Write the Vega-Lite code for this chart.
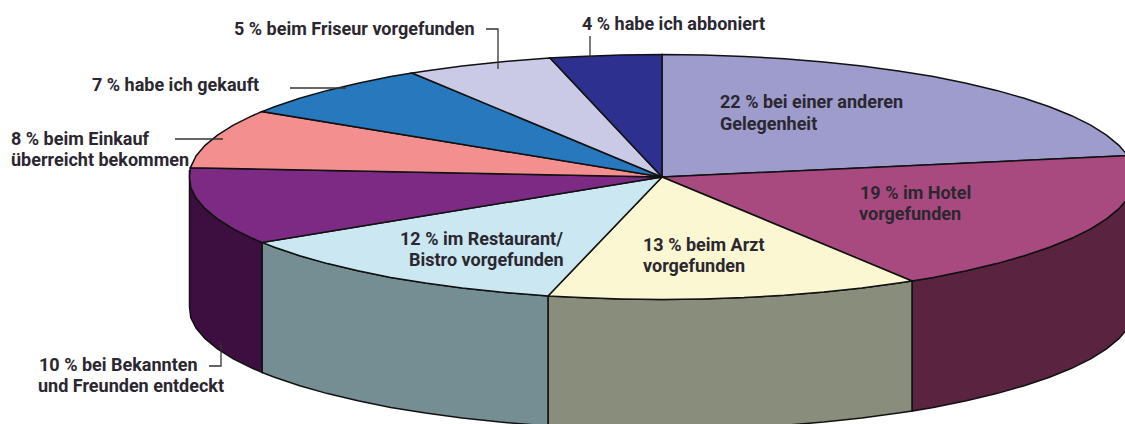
{"$schema":"https://vega.github.io/schema/vega-lite/v6.json","width":1125,"height":424,"padding":0,"autosize":{"type":"fit","contains":"padding"},"background":"white","view":{"stroke":null},
"config":{"view":{"stroke":null}},
"datasets":{
"walls":[
{"part":"w19","i":1,"x":1135,"y":177},{"part":"w19","i":2,"x":1133.2,"y":187.7},{"part":"w19","i":3,"x":1127.8,"y":198.3},{"part":"w19","i":4,"x":1118.9,"y":208.7},{"part":"w19","i":5,"x":1106.5,"y":218.9},{"part":"w19","i":6,"x":1090.7,"y":228.8},{"part":"w19","i":7,"x":1071.6,"y":238.3},{"part":"w19","i":8,"x":1049.5,"y":247.3},{"part":"w19","i":9,"x":1024.3,"y":255.7},{"part":"w19","i":10,"x":996.5,"y":263.6},{"part":"w19","i":11,"x":966.3,"y":270.8},{"part":"w19","i":12,"x":933.3,"y":277.4},{"part":"w19","i":13,"x":912,"y":281},
{"part":"w19","i":14,"x":912,"y":411},{"part":"w19","i":15,"x":933.3,"y":407.4},{"part":"w19","i":16,"x":966.3,"y":400.8},{"part":"w19","i":17,"x":996.5,"y":393.6},{"part":"w19","i":18,"x":1024.3,"y":385.7},{"part":"w19","i":19,"x":1049.5,"y":377.3},{"part":"w19","i":20,"x":1071.6,"y":368.3},{"part":"w19","i":21,"x":1090.7,"y":358.8},{"part":"w19","i":22,"x":1106.5,"y":348.9},{"part":"w19","i":23,"x":1118.9,"y":338.7},{"part":"w19","i":24,"x":1127.8,"y":328.3},{"part":"w19","i":25,"x":1133.2,"y":317.7},{"part":"w19","i":26,"x":1135,"y":307},{"part":"w19","i":27,"x":1135,"y":177},
{"part":"w13","i":1,"x":912,"y":281},{"part":"w13","i":2,"x":898.5,"y":283.1},{"part":"w13","i":3,"x":861.9,"y":288},{"part":"w13","i":4,"x":823.8,"y":292.1},{"part":"w13","i":5,"x":784.4,"y":295.3},{"part":"w13","i":6,"x":744.1,"y":297.6},{"part":"w13","i":7,"x":703.2,"y":299},{"part":"w13","i":8,"x":662,"y":299.5},{"part":"w13","i":9,"x":620.8,"y":299},{"part":"w13","i":10,"x":579.9,"y":297.6},{"part":"w13","i":11,"x":548,"y":295.9},
{"part":"w13","i":12,"x":548,"y":425.9},{"part":"w13","i":13,"x":579.9,"y":427.6},{"part":"w13","i":14,"x":620.8,"y":429},{"part":"w13","i":15,"x":662,"y":429.5},{"part":"w13","i":16,"x":703.2,"y":429},{"part":"w13","i":17,"x":744.1,"y":427.6},{"part":"w13","i":18,"x":784.4,"y":425.3},{"part":"w13","i":19,"x":823.8,"y":422.1},{"part":"w13","i":20,"x":861.9,"y":418},{"part":"w13","i":21,"x":898.5,"y":413.1},{"part":"w13","i":22,"x":912,"y":411},{"part":"w13","i":23,"x":912,"y":281},
{"part":"w12","i":1,"x":548,"y":295.9},{"part":"w12","i":2,"x":539.6,"y":295.3},{"part":"w12","i":3,"x":500.2,"y":292.1},{"part":"w12","i":4,"x":462.1,"y":288},{"part":"w12","i":5,"x":425.5,"y":283.1},{"part":"w12","i":6,"x":390.7,"y":277.4},{"part":"w12","i":7,"x":358,"y":270.8},{"part":"w12","i":8,"x":327.5,"y":263.6},{"part":"w12","i":9,"x":299.7,"y":255.7},{"part":"w12","i":10,"x":274.5,"y":247.3},{"part":"w12","i":11,"x":262,"y":242.4},
{"part":"w12","i":12,"x":262,"y":372.4},{"part":"w12","i":13,"x":274.5,"y":377.3},{"part":"w12","i":14,"x":299.7,"y":385.7},{"part":"w12","i":15,"x":327.5,"y":393.6},{"part":"w12","i":16,"x":358,"y":400.8},{"part":"w12","i":17,"x":390.7,"y":407.4},{"part":"w12","i":18,"x":425.5,"y":413.1},{"part":"w12","i":19,"x":462.1,"y":418},{"part":"w12","i":20,"x":500.2,"y":422.1},{"part":"w12","i":21,"x":539.6,"y":425.3},{"part":"w12","i":22,"x":548,"y":425.9},{"part":"w12","i":23,"x":548,"y":295.9},
{"part":"w10","i":1,"x":262,"y":242.4},{"part":"w10","i":2,"x":252.4,"y":238.3},{"part":"w10","i":3,"x":233.3,"y":228.8},{"part":"w10","i":4,"x":217.5,"y":218.9},{"part":"w10","i":5,"x":205.1,"y":208.7},{"part":"w10","i":6,"x":196.2,"y":198.3},{"part":"w10","i":7,"x":190.8,"y":187.7},{"part":"w10","i":8,"x":189.5,"y":170},
{"part":"w10","i":11,"x":189.5,"y":307},{"part":"w10","i":12,"x":190.8,"y":317.7},{"part":"w10","i":13,"x":196.2,"y":328.3},{"part":"w10","i":14,"x":205.1,"y":338.7},{"part":"w10","i":15,"x":217.5,"y":348.9},{"part":"w10","i":16,"x":233.3,"y":358.8},{"part":"w10","i":17,"x":252.4,"y":368.3},{"part":"w10","i":18,"x":262,"y":372.4},{"part":"w10","i":19,"x":262,"y":242.4}
],
"slices":[
{"part":"22","i":0,"x":662,"y":177},{"part":"22","i":1,"x":662,"y":54.5},{"part":"22","i":2,"x":703.2,"y":55},{"part":"22","i":3,"x":744.1,"y":56.4},{"part":"22","i":4,"x":784.4,"y":58.7},{"part":"22","i":5,"x":823.8,"y":61.9},{"part":"22","i":6,"x":861.9,"y":66},{"part":"22","i":7,"x":898.5,"y":70.9},{"part":"22","i":8,"x":933.3,"y":76.6},{"part":"22","i":9,"x":966.3,"y":83.2},{"part":"22","i":10,"x":996.5,"y":90.4},{"part":"22","i":11,"x":1024.3,"y":98.3},{"part":"22","i":12,"x":1049.5,"y":106.7},{"part":"22","i":13,"x":1071.6,"y":115.7},{"part":"22","i":14,"x":1090.7,"y":125.2},{"part":"22","i":15,"x":1106.5,"y":135.1},{"part":"22","i":16,"x":1118.9,"y":145.3},{"part":"22","i":17,"x":1127.8,"y":155.7},{"part":"22","i":18,"x":662,"y":177},
{"part":"19","i":0,"x":662,"y":177},{"part":"19","i":1,"x":1127.8,"y":155.7},{"part":"19","i":2,"x":1133.2,"y":166.3},{"part":"19","i":3,"x":1135,"y":177},{"part":"19","i":4,"x":1133.2,"y":187.7},{"part":"19","i":5,"x":1127.8,"y":198.3},{"part":"19","i":6,"x":1118.9,"y":208.7},{"part":"19","i":7,"x":1106.5,"y":218.9},{"part":"19","i":8,"x":1090.7,"y":228.8},{"part":"19","i":9,"x":1071.6,"y":238.3},{"part":"19","i":10,"x":1049.5,"y":247.3},{"part":"19","i":11,"x":1024.3,"y":255.7},{"part":"19","i":12,"x":996.5,"y":263.6},{"part":"19","i":13,"x":966.3,"y":270.8},{"part":"19","i":14,"x":933.3,"y":277.4},{"part":"19","i":15,"x":912,"y":281},{"part":"19","i":16,"x":662,"y":177},
{"part":"13","i":0,"x":662,"y":177},{"part":"13","i":1,"x":912,"y":281},{"part":"13","i":2,"x":898.5,"y":283.1},{"part":"13","i":3,"x":861.9,"y":288},{"part":"13","i":4,"x":823.8,"y":292.1},{"part":"13","i":5,"x":784.4,"y":295.3},{"part":"13","i":6,"x":744.1,"y":297.6},{"part":"13","i":7,"x":703.2,"y":299},{"part":"13","i":8,"x":662,"y":299.5},{"part":"13","i":9,"x":620.8,"y":299},{"part":"13","i":10,"x":579.9,"y":297.6},{"part":"13","i":11,"x":548,"y":295.9},{"part":"13","i":12,"x":662,"y":177},
{"part":"12","i":0,"x":662,"y":177},{"part":"12","i":1,"x":548,"y":295.9},{"part":"12","i":2,"x":539.6,"y":295.3},{"part":"12","i":3,"x":500.2,"y":292.1},{"part":"12","i":4,"x":462.1,"y":288},{"part":"12","i":5,"x":425.5,"y":283.1},{"part":"12","i":6,"x":390.7,"y":277.4},{"part":"12","i":7,"x":358,"y":270.8},{"part":"12","i":8,"x":327.5,"y":263.6},{"part":"12","i":9,"x":299.7,"y":255.7},{"part":"12","i":10,"x":274.5,"y":247.3},{"part":"12","i":11,"x":262,"y":242.4},{"part":"12","i":12,"x":662,"y":177},
{"part":"10","i":0,"x":662,"y":177},{"part":"10","i":1,"x":262,"y":242.4},{"part":"10","i":2,"x":252.4,"y":238.3},{"part":"10","i":3,"x":233.3,"y":228.8},{"part":"10","i":4,"x":217.5,"y":218.9},{"part":"10","i":5,"x":205.1,"y":208.7},{"part":"10","i":6,"x":196.2,"y":198.3},{"part":"10","i":7,"x":190.8,"y":187.7},{"part":"10","i":8,"x":189.5,"y":177},{"part":"10","i":9,"x":190.3,"y":167.8},{"part":"10","i":10,"x":662,"y":177},
{"part":"08","i":0,"x":662,"y":177},{"part":"08","i":1,"x":190.3,"y":167.8},{"part":"08","i":2,"x":196.2,"y":155.7},{"part":"08","i":3,"x":205.1,"y":145.3},{"part":"08","i":4,"x":217.5,"y":135.1},{"part":"08","i":5,"x":233.3,"y":125.2},{"part":"08","i":6,"x":252.4,"y":115.7},{"part":"08","i":7,"x":262,"y":111.6},{"part":"08","i":8,"x":662,"y":177},
{"part":"07","i":0,"x":662,"y":177},{"part":"07","i":1,"x":262,"y":111.6},{"part":"07","i":2,"x":274.5,"y":106.7},{"part":"07","i":3,"x":299.7,"y":98.3},{"part":"07","i":4,"x":327.5,"y":90.4},{"part":"07","i":5,"x":358,"y":83.2},{"part":"07","i":6,"x":390.7,"y":76.6},{"part":"07","i":7,"x":412,"y":73},{"part":"07","i":8,"x":662,"y":177},
{"part":"05","i":0,"x":662,"y":177},{"part":"05","i":1,"x":412,"y":73},{"part":"05","i":2,"x":425.5,"y":70.9},{"part":"05","i":3,"x":462.1,"y":66},{"part":"05","i":4,"x":500.2,"y":61.9},{"part":"05","i":5,"x":539.6,"y":58.7},{"part":"05","i":6,"x":550,"y":58},{"part":"05","i":7,"x":662,"y":177},
{"part":"04","i":0,"x":662,"y":177},{"part":"04","i":1,"x":550,"y":58},{"part":"04","i":2,"x":579.9,"y":56.4},{"part":"04","i":3,"x":620.8,"y":55},{"part":"04","i":4,"x":662,"y":54.5},{"part":"04","i":5,"x":662,"y":177}
],
"leaders":[
{"k":"a","i":1,"x":290,"y":88},{"k":"a","i":2,"x":346,"y":88},
{"k":"b","i":1,"x":175,"y":139},{"k":"b","i":2,"x":223,"y":139},
{"k":"c","i":1,"x":486,"y":29},{"k":"c","i":2,"x":498,"y":29},{"k":"c","i":3,"x":498,"y":69},
{"k":"d","i":1,"x":590,"y":36},{"k":"d","i":2,"x":590,"y":58},
{"k":"e","i":1,"x":209,"y":366},{"k":"e","i":2,"x":221,"y":366},{"k":"e","i":3,"x":221,"y":343}
],
"labels":[
{"t":"5 % beim Friseur vorgefunden","x":234,"y":35},
{"t":"4 % habe ich abboniert","x":582,"y":30},
{"t":"7 % habe ich gekauft","x":92,"y":91},
{"t":"8 % beim Einkauf","x":11,"y":145},
{"t":"überreicht bekommen","x":11,"y":166},
{"t":"22 % bei einer anderen","x":720,"y":108},
{"t":"Gelegenheit","x":720,"y":130},
{"t":"19 % im Hotel","x":860,"y":199},
{"t":"vorgefunden","x":859,"y":220},
{"t":"13 % beim Arzt","x":643,"y":251},
{"t":"vorgefunden","x":643,"y":272},
{"t":"12 % im Restaurant/","x":400,"y":245},
{"t":"Bistro vorgefunden","x":409,"y":266},
{"t":"10 % bei Bekannten","x":39,"y":371},
{"t":"und Freunden entdeckt","x":38,"y":392}
]},
"layer":[
{"data":{"name":"walls"},"mark":{"type":"line","filled":true,"clip":true,"stroke":"#111111","strokeWidth":1.5,"strokeJoin":"miter"},
"encoding":{"x":{"field":"x","type":"quantitative","scale":{"domain":[0,1125]},"axis":null},"y":{"field":"y","type":"quantitative","scale":{"domain":[424,0]},"axis":null},"order":{"field":"i","type":"quantitative"},
"fill":{"field":"part","type":"nominal","legend":null,"scale":{"domain":["w19","w13","w12","w10"],"range":["#5a2340","#898d7b","#758e94","#3d0f40"]}}}},
{"data":{"name":"slices"},"mark":{"type":"line","filled":true,"clip":true,"stroke":"#111111","strokeWidth":1.5,"strokeJoin":"miter"},
"encoding":{"x":{"field":"x","type":"quantitative","scale":{"domain":[0,1125]},"axis":null},"y":{"field":"y","type":"quantitative","scale":{"domain":[424,0]},"axis":null},"order":{"field":"i","type":"quantitative"},
"fill":{"field":"part","type":"nominal","legend":null,"scale":{"domain":["22","19","13","12","10","08","07","05","04"],"range":["#9d9ccc","#a84a7f","#fbf7d2","#cbe8f2","#7c2a84","#f48f90","#2878be","#cbcae6","#2e3090"]}}}},
{"data":{"name":"leaders"},"mark":{"type":"line","stroke":"#333333","strokeWidth":1.3},
"encoding":{"x":{"field":"x","type":"quantitative","scale":{"domain":[0,1125]},"axis":null},"y":{"field":"y","type":"quantitative","scale":{"domain":[424,0]},"axis":null},"order":{"field":"i","type":"quantitative"},"detail":{"field":"k"}}},
{"data":{"name":"labels"},"mark":{"type":"text","align":"left","baseline":"alphabetic","font":"Roboto","fontWeight":"bold","fontSize":18,"fill":"#2b2730"},
"encoding":{"x":{"field":"x","type":"quantitative","scale":{"domain":[0,1125]},"axis":null},"y":{"field":"y","type":"quantitative","scale":{"domain":[424,0]},"axis":null},"text":{"field":"t"}}}
],
"resolve":{"scale":{"fill":"independent"}}
}
